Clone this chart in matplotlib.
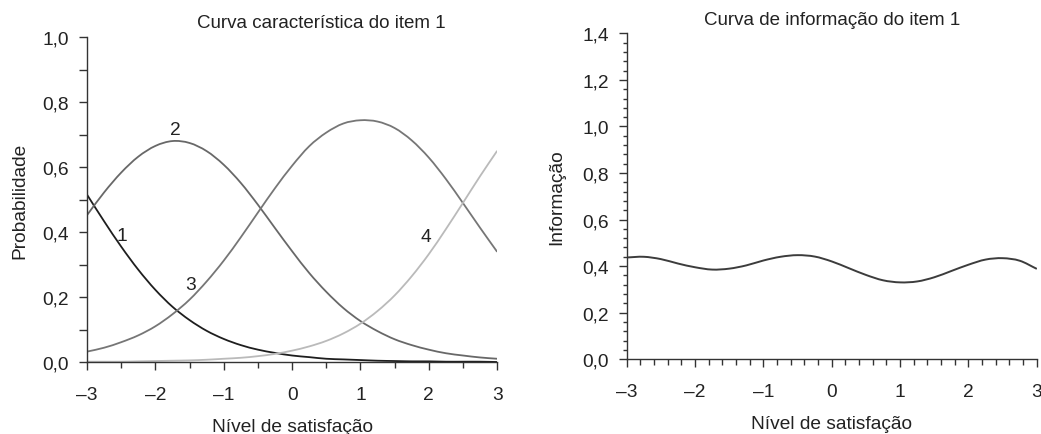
import numpy as np
import matplotlib
matplotlib.use('Agg')
import matplotlib.pyplot as plt
from matplotlib.ticker import MultipleLocator, FuncFormatter
from matplotlib.path import Path
from matplotlib.patches import PathPatch

plt.rcParams['font.family'] = ['Liberation Sans', 'DejaVu Sans']

#%% values
theta = [-3.0, -2.75, -2.5, -2.25, -2.0, -1.75, -1.5, -1.25, -1.0, -0.75, -0.5, -0.25,
         0.0, 0.25, 0.5, 0.75, 1.0, 1.25, 1.5, 1.75, 2.0, 2.25, 2.5, 2.75, 3.0]

cat1 = [0.515, 0.433, 0.355, 0.284, 0.222, 0.170, 0.129, 0.096, 0.071, 0.052, 0.038, 0.028,
        0.020, 0.015, 0.010, 0.008, 0.006, 0.004, 0.003, 0.002, 0.002, 0.001, 0.001, 0.001, 0.000]
cat2 = [0.452, 0.522, 0.583, 0.632, 0.665, 0.680, 0.674, 0.649, 0.607, 0.551, 0.484, 0.412,
        0.341, 0.274, 0.216, 0.166, 0.126, 0.095, 0.070, 0.052, 0.038, 0.027, 0.020, 0.014, 0.010]
cat3 = [0.032, 0.044, 0.061, 0.082, 0.110, 0.147, 0.192, 0.248, 0.312, 0.384, 0.460, 0.535,
        0.604, 0.664, 0.706, 0.734, 0.744, 0.740, 0.720, 0.682, 0.629, 0.563, 0.489, 0.413, 0.339]
cat4 = [0.001, 0.001, 0.001, 0.002, 0.003, 0.004, 0.005, 0.007, 0.010, 0.013, 0.018, 0.025,
        0.035, 0.048, 0.065, 0.088, 0.118, 0.157, 0.205, 0.264, 0.332, 0.409, 0.490, 0.572, 0.650]

info = [0.437, 0.440, 0.430, 0.411, 0.395, 0.385, 0.389, 0.403, 0.424, 0.440, 0.447, 0.441,
        0.420, 0.391, 0.362, 0.339, 0.330, 0.334, 0.352, 0.379, 0.406, 0.428, 0.434, 0.423, 0.388]

cat_labels = ['1', '2', '3', '4']
label_pos = [(-2.49, 0.39), (-1.71, 0.715), (-1.48, 0.24), (1.95, 0.385)]

FS = 13.8

#%% helpers
def smooth_line(ax, x, y, **kw):
    # draws the read points as one smooth bezier path (catmull-rom tangents)
    x = np.asarray(x, float); y = np.asarray(y, float)
    n = len(x)
    dx = np.gradient(x); dy = np.gradient(y)
    verts = [(x[0], y[0])]
    codes = [Path.MOVETO]
    for i in range(n - 1):
        verts.append((x[i] + dx[i] / 3, y[i] + dy[i] / 3))
        verts.append((x[i + 1] - dx[i + 1] / 3, y[i + 1] - dy[i + 1] / 3))
        verts.append((x[i + 1], y[i + 1]))
        codes += [Path.CURVE4] * 3
    ax.add_patch(PathPatch(Path(verts, codes), fill=False, capstyle='butt', **kw))

comma = FuncFormatter(lambda v, p: ('%.1f' % v).replace('.', ','))
axcol = '#333333'
txtcol = '#222222'

def style(ax):
    for s in ['top', 'right']:
        ax.spines[s].set_visible(False)
    for s in ['left', 'bottom']:
        ax.spines[s].set_color(axcol)
        ax.spines[s].set_linewidth(1.0)
    ax.tick_params(which='major', direction='out', length=6, width=1, color=axcol,
                   labelsize=FS, labelcolor=txtcol)
    ax.tick_params(which='minor', direction='out', length=4, width=1, color=axcol)
    ax.tick_params(axis='x', which='major', pad=11)
    ax.tick_params(axis='y', which='major', pad=7)
    ax.set_xlim(-3, 3)
    ax.xaxis.set_major_locator(MultipleLocator(1))
    ax.xaxis.set_major_formatter(FuncFormatter(lambda v, p: '%d' % v if v >= 0 else '\u2013%d' % -v))
    ax.yaxis.set_major_formatter(comma)
    ax.set_xlabel('Nível de satisfação', fontsize=FS, labelpad=11, color=txtcol)

#%% plot
fig = plt.figure(figsize=(10.41, 4.35), dpi=100)
ax1 = fig.add_axes([0.0836, 0.1655, 0.394, 0.747])
ax2 = fig.add_axes([0.602, 0.172, 0.394, 0.749])

smooth_line(ax1, theta, cat1, edgecolor='#1e1e1e', lw=1.3)
smooth_line(ax1, theta, cat2, edgecolor='#686868', lw=1.3)
smooth_line(ax1, theta, cat3, edgecolor='#767676', lw=1.3)
smooth_line(ax1, theta, cat4, edgecolor='#bababa', lw=1.3)
for lab, (x, y) in zip(cat_labels, label_pos):
    ax1.text(x, y, lab, fontsize=FS, ha='center', va='center', color=txtcol)

style(ax1)
ax1.set_ylim(0, 1.0)
ax1.yaxis.set_major_locator(MultipleLocator(0.2))
ax1.yaxis.set_minor_locator(MultipleLocator(0.1))
ax1.xaxis.set_minor_locator(MultipleLocator(0.5))
ax1.tick_params(axis='y', which='minor', length=6)
ax1.set_ylabel('Probabilidade', fontsize=FS, labelpad=10, color=txtcol)
ax1.set_title('Curva característica do item 1', fontsize=13.5, x=0.57, pad=7, color=txtcol)

smooth_line(ax2, theta, info, edgecolor='#3c3c3c', lw=1.4)
style(ax2)
ax2.set_ylim(0, 1.4)
ax2.yaxis.set_major_locator(MultipleLocator(0.2))
ax2.yaxis.set_minor_locator(MultipleLocator(0.04))
ax2.xaxis.set_minor_locator(MultipleLocator(0.2))
ax2.tick_params(axis='y', which='minor', length=3)
ax2.set_ylabel('Informação', fontsize=FS, labelpad=12, color=txtcol)
ax2.set_title('Curva de informação do item 1', fontsize=13.5, pad=7, color=txtcol)

fig.savefig('out.png', dpi=100)
